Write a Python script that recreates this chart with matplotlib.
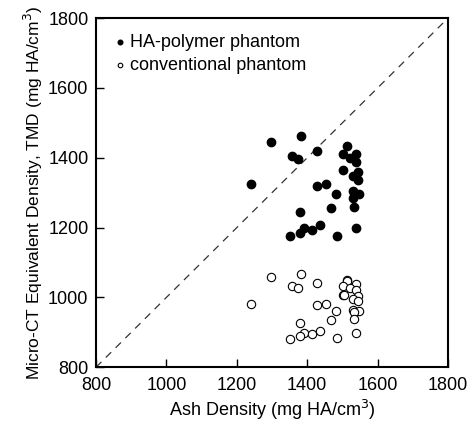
import numpy as np
import matplotlib.pyplot as plt

plt.rcParams['font.family'] = ['Liberation Sans', 'DejaVu Sans']

# HA-polymer phantom (filled)
ha_x = [1296, 1381, 1358, 1375, 1427, 1239, 1512, 1503, 1539, 1523, 1539, 1503,
        1545, 1531, 1545, 1427, 1454, 1483, 1531, 1548, 1531, 1379, 1469, 1533,
        1435, 1392, 1414, 1379, 1351, 1484, 1539]
ha_y = [1446, 1462, 1405, 1397, 1419, 1326, 1433, 1410, 1412, 1398, 1388, 1364,
        1360, 1347, 1336, 1319, 1324, 1296, 1304, 1296, 1285, 1244, 1256, 1259,
        1208, 1199, 1193, 1184, 1175, 1177, 1199]

# conventional phantom (open)
conv_x = [1296, 1381, 1358, 1375, 1427, 1239, 1512, 1514, 1503, 1539, 1523, 1539,
          1503, 1506, 1545, 1531, 1545, 1427, 1454, 1483, 1531, 1548, 1533, 1379,
          1469, 1533, 1435, 1392, 1414, 1379, 1351, 1484, 1539]
conv_y = [1059, 1066, 1032, 1027, 1042, 981, 1049, 1046, 1033, 1038, 1028, 1021,
          1006, 1008, 1003, 994, 990, 977, 981, 961, 965, 961, 957, 927,
          936, 938, 904, 898, 895, 888, 881, 883, 898]

fig = plt.figure(figsize=(4.71, 4.23), dpi=100)
ax = fig.add_axes([0.204, 0.132, 0.747, 0.825])

ax.plot([800, 1800], [800, 1800], color='#333333', lw=0.9, ls=(0, (6, 5)))
ax.scatter(ha_x, ha_y, s=36, c='black', edgecolors='black', label='HA-polymer phantom', zorder=3)
ax.scatter(conv_x, conv_y, s=36, facecolors='white', edgecolors='black', linewidths=0.8,
           label='conventional phantom', zorder=3)

ax.set_xlim(800, 1800)
ax.set_ylim(800, 1800)
ax.set_xticks(np.arange(800, 1801, 200))
ax.set_yticks(np.arange(800, 1801, 200))
ax.tick_params(direction='in', length=6, width=1, labelsize=13)
ax.tick_params(axis='x', pad=7)
ax.tick_params(axis='y', pad=5.5)
for s in ax.spines.values():
    s.set_linewidth(1.5)

ax.set_xlabel('Ash Density (mg HA/cm$^3$)', fontsize=13, labelpad=3)
ax.set_ylabel('Micro-CT Equivalent Density, TMD (mg HA/cm$^3$)', fontsize=12.5, labelpad=2)

ax.legend(loc='upper left', frameon=False, fontsize=13, handletextpad=0.05,
          markerscale=0.55, borderaxespad=0.45, labelspacing=0.35, handlelength=1.0)

fig.savefig('out.png', dpi=100)
